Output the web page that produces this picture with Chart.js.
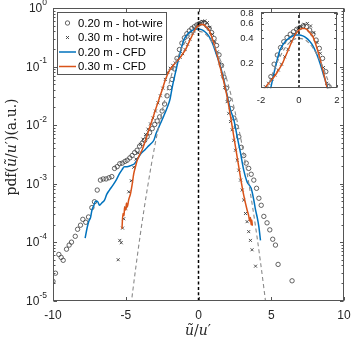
<!DOCTYPE html>
<html><head><meta charset="utf-8">
<script src="https://cdn.jsdelivr.net/npm/chart.js@4.4.0/dist/chart.umd.min.js"></script>
<style>
html,body{margin:0;padding:0;background:#fff;}
#wrap{position:relative;width:353px;height:343px;overflow:hidden;}
#main{position:absolute;left:0;top:0;}
#inset{position:absolute;left:230px;top:0;}
</style></head><body>
<div id="wrap">
<canvas id="main" width="353" height="343"></canvas>
<canvas id="inset" width="115" height="110"></canvas>
</div>
<script>
// ---------- data (x = u~/u', values stored as log10 of pdf) ----------
const hw20X = [-10.0,-9.83,-9.6,-9.44,-9.3,-9.07,-8.89,-8.73,-8.47,-8.31,-8.11,-7.95,-7.75,-7.56,-7.33,-7.15,-6.96,-6.74,-6.55,-6.35,-6.15,-5.96,-5.77,-5.59,-5.41,-5.24,-5.05,-4.9,-4.72,-4.56,-4.39,-4.22,-4.05,-3.87,-3.7,-3.53,-3.36,-3.18,-3.01,-2.84,-2.67,-2.5,-2.33,-2.16,-1.99,-1.82,-1.65,-1.48,-1.31,-1.14,-0.97,-0.8,-0.63,-0.46,-0.29,-0.12,0.05,0.22,0.39,0.56,0.73,0.9,1.07,1.24,1.41,1.58,1.75,1.92,2.09,2.26,2.43,2.6,2.77,2.94,3.11,3.28,3.45,3.62,3.8,3.99,4.15,4.31,4.49,4.71,4.9,5.1,5.29,5.47,6.43];
const hw20Log = [-4.67,-4.53,-4.21,-4.26,-4.31,-4.12,-4.05,-4.0,-3.9,-3.78,-3.71,-3.61,-3.66,-3.57,-3.41,-3.31,-3.11,-2.94,-2.92,-2.92,-2.9,-2.88,-2.74,-2.71,-2.66,-2.65,-2.62,-2.6,-2.56,-2.52,-2.47,-2.43,-2.36,-2.31,-2.26,-2.2,-2.13,-2.06,-1.99,-1.93,-1.86,-1.76,-1.64,-1.5,-1.36,-1.22,-1.04,-0.86,-0.71,-0.6,-0.51,-0.44,-0.39,-0.35,-0.32,-0.29,-0.27,-0.25,-0.26,-0.3,-0.35,-0.42,-0.52,-0.64,-0.8,-0.98,-1.18,-1.37,-1.56,-1.72,-1.88,-2.03,-2.2,-2.38,-2.52,-2.65,-2.74,-2.84,-2.94,-3.08,-3.25,-3.37,-3.56,-3.67,-3.79,-3.95,-4.05,-4.38,-4.66];

const hw30X = [-5.52,-5.41,-5.31,-5.22,-5.14,-5.0,-4.79,-4.62,-4.45,-4.3,-4.15,-3.99,-3.82,-3.64,-3.47,-3.3,-3.13,-2.96,-2.79,-2.62,-2.45,-2.28,-2.11,-1.94,-1.77,-1.6,-1.43,-1.26,-1.09,-0.92,-0.75,-0.58,-0.41,-0.24,-0.07,0.1,0.27,0.44,0.61,0.78,0.95,1.12,1.29,1.46,1.63,1.8,1.97,2.08,2.2,2.31,2.43,2.54,2.66,2.77,2.89,3.0,3.11,3.23,3.34,3.45,3.57,3.68,3.92];
const hw30Log = [-4.3,-3.97,-4.01,-3.76,-3.6,-3.42,-3.14,-2.95,-2.72,-2.58,-2.48,-2.33,-2.24,-2.16,-2.07,-1.98,-1.88,-1.76,-1.62,-1.5,-1.37,-1.22,-1.1,-1.03,-0.98,-0.94,-0.89,-0.84,-0.78,-0.71,-0.62,-0.53,-0.43,-0.35,-0.29,-0.26,-0.23,-0.22,-0.25,-0.33,-0.45,-0.58,-0.75,-0.94,-1.13,-1.36,-1.6,-1.8,-1.94,-2.08,-2.26,-2.43,-2.6,-2.77,-2.94,-3.11,-3.28,-3.51,-3.65,-3.82,-3.97,-4.13,-4.41];

const cfd20X = [-7.79,-7.65,-7.55,-7.42,-7.32,-7.2,-7.08,-6.95,-6.8,-6.65,-6.46,-6.3,-6.12,-5.89,-5.66,-5.43,-5.25,-5.09,-4.9,-4.74,-4.55,-4.4,-4.17,-3.94,-3.71,-3.49,-3.28,-3.07,-2.91,-2.75,-2.61,-2.38,-2.15,-1.95,-1.81,-1.58,-1.35,-1.15,-1.0,-0.8,-0.6,-0.4,-0.2,0.02,0.2,0.36,0.55,0.71,0.88,1.05,1.28,1.51,1.74,1.97,2.2,2.43,2.66,2.89,3.11,3.34,3.5,3.62,3.8,3.92,4.03,4.15,4.26];
const cfd20Log = [-3.93,-3.75,-3.65,-3.58,-3.45,-3.38,-3.3,-3.3,-3.37,-3.33,-3.28,-3.18,-3.11,-3.03,-2.94,-2.83,-2.76,-2.71,-2.71,-2.7,-2.68,-2.66,-2.57,-2.48,-2.43,-2.37,-2.32,-2.26,-2.14,-2.05,-1.97,-1.84,-1.7,-1.55,-1.36,-1.1,-0.85,-0.66,-0.54,-0.46,-0.41,-0.38,-0.36,-0.36,-0.37,-0.39,-0.43,-0.48,-0.56,-0.66,-0.83,-1.0,-1.23,-1.49,-1.74,-1.91,-2.2,-2.48,-2.77,-2.97,-3.03,-3.08,-3.28,-3.45,-3.57,-3.74,-3.97];

const cfd30X = [-5.26,-5.19,-5.12,-5.08,-5.0,-4.95,-4.9,-4.8,-4.67,-4.55,-4.45,-4.33,-4.21,-4.03,-3.87,-3.64,-3.42,-3.18,-2.96,-2.73,-2.5,-2.27,-2.0,-1.7,-1.45,-1.24,-1.05,-0.89,-0.72,-0.55,-0.38,-0.21,-0.05,0.14,0.3,0.45,0.6,0.71,0.88,1.05,1.28,1.51,1.74,1.97,2.2,2.43,2.66,2.89,3.11,3.34,3.45,3.52,3.57,3.62,3.66,3.7];
const cfd30Log = [-3.77,-3.51,-3.55,-3.4,-3.45,-3.33,-3.4,-3.28,-3.17,-3.0,-2.83,-2.71,-2.6,-2.5,-2.42,-2.26,-2.09,-1.91,-1.74,-1.57,-1.4,-1.22,-1.07,-0.97,-0.9,-0.84,-0.77,-0.71,-0.62,-0.53,-0.44,-0.36,-0.31,-0.28,-0.28,-0.3,-0.34,-0.37,-0.47,-0.6,-0.8,-1.03,-1.26,-1.52,-1.85,-2.2,-2.55,-2.9,-3.2,-3.45,-3.55,-3.64,-3.58,-3.7,-3.62,-3.72];

const gaussX = [-4.75,-4.5,-4.25,-4,-3.75,-3.5,-3.25,-3,-2.75,-2.5,-2.25,-2,-1.75,-1.5,-1.25,-1,-0.75,-0.5,-0.25,0,0.25,0.5,0.75,1,1.25,1.5,1.75,2,2.25,2.5,2.75,3,3.25,3.5,3.75,4,4.25,4.5,4.75];
const gaussLog = [-5.3,-4.8,-4.32,-3.87,-3.45,-3.06,-2.69,-2.35,-2.04,-1.76,-1.5,-1.27,-1.06,-0.89,-0.74,-0.62,-0.52,-0.45,-0.41,-0.4,-0.41,-0.45,-0.52,-0.62,-0.74,-0.89,-1.06,-1.27,-1.5,-1.76,-2.04,-2.35,-2.69,-3.06,-3.45,-3.87,-4.32,-4.8,-5.3];

const seriesLabels = ['0.20 m - hot-wire','0.30 m - hot-wire','0.20 m - CFD','0.30 m - CFD'];
const mainXTicks = [-10,-5,0,5,10];
const mainYExps = [0,-1,-2,-3,-4,-5];
const insetXTicks = [-2,0,2];
const insetYTicks = [0.2,0.4,0.6,0.8];

// ---------- helpers ----------
const pts = (xs, ls) => xs.map((x,i)=>({x:x, y:Math.pow(10, ls[i])}));
const BLUE = '#0072BD', ORANGE = '#D95319', MARK = '#3c3c3c', AXC = '#555555';
const SANS = '"Liberation Sans", Arial, sans-serif';
const SERIF = '"DejaVu Serif", "Liberation Serif", serif';

function datasets(ymin, ymax){
  return [
    {label:seriesLabels[0], data:pts(hw20X,hw20Log), showLine:false, pointStyle:'circle', pointRadius:2.2,
     pointBorderColor:MARK, pointBackgroundColor:'rgba(0,0,0,0)', pointBorderWidth:0.8, order:5, clip:0},
    {label:seriesLabels[1], data:pts(hw30X,hw30Log), showLine:false, pointStyle:'crossRot', pointRadius:2.1,
     pointBorderColor:MARK, pointBackgroundColor:'rgba(0,0,0,0)', pointBorderWidth:0.9, order:4, clip:0},
    {label:seriesLabels[2], data:pts(cfd20X,cfd20Log), showLine:true, pointRadius:0, borderColor:BLUE, borderWidth:1.5,
     cubicInterpolationMode:'monotone', order:3, clip:0},
    {label:seriesLabels[3], data:pts(cfd30X,cfd30Log), showLine:true, pointRadius:0, borderColor:ORANGE, borderWidth:1.5,
     cubicInterpolationMode:'monotone', order:2, clip:0},
    {label:'gauss', data:pts(gaussX,gaussLog), showLine:true, pointRadius:0, borderColor:'#8a8a8a', borderWidth:1.1,
     borderDash:[4,3], cubicInterpolationMode:'monotone', order:1, clip:0},
    {label:'zero', data:[{x:0,y:ymin},{x:0,y:ymax}], showLine:true, pointRadius:0, borderColor:'#000', borderWidth:1.5,
     borderDash:[3,2.4], order:0, clip:0}
  ];
}

function mixedText(ctx, parts, cx, cy, rotate){
  let w = 0;
  parts.forEach(p=>{ctx.font=p[1]; p.w=ctx.measureText(p[0]).width; w+=p.w;});
  ctx.save(); ctx.translate(cx,cy); if(rotate) ctx.rotate(-Math.PI/2);
  ctx.textAlign='left'; ctx.textBaseline='alphabetic';
  let xx = -w/2;
  parts.forEach(p=>{ctx.font=p[1]; ctx.fillText(p[0],xx,0); xx+=p.w;});
  ctx.restore();
}

const whiteBg = {
  id:'whiteBg',
  beforeDraw(chart, args, opts){
    const c = chart.ctx, a = chart.chartArea;
    c.save(); c.fillStyle='#fff';
    if(opts.areaOnly) c.fillRect(a.left, a.top, a.right-a.left, a.bottom-a.top);
    else c.fillRect(0,0,chart.width,chart.height);
    c.restore();
  }
};

const mainDeco = {
  id:'mainDeco',
  afterDraw(chart){
    const {ctx, chartArea:a, scales:{x,y}} = chart;
    ctx.save();
    const L=Math.round(a.left)+0.5, R=Math.round(a.right)-0.5, T=Math.round(a.top)+0.5, B=Math.round(a.bottom)-0.5;
    ctx.strokeStyle=AXC; ctx.lineWidth=1;
    ctx.strokeRect(L,T,R-L,B-T);
    ctx.beginPath();
    mainXTicks.forEach(v=>{const px=Math.round(x.getPixelForValue(v))+0.5;
      ctx.moveTo(px,B); ctx.lineTo(px,B-3.5); ctx.moveTo(px,T); ctx.lineTo(px,T+3.5);});
    for(let e=-5; e<=0; e++){
      for(let k=1;k<=9;k++){
        const v=k*Math.pow(10,e); if(v>1.0001) break;
        const py=Math.round(y.getPixelForValue(v))+0.5; const len=(k===1)?3.5:2;
        ctx.moveTo(L,py); ctx.lineTo(L+len,py); ctx.moveTo(R,py); ctx.lineTo(R-len,py);
      }
    }
    ctx.stroke();
    // tick labels
    ctx.fillStyle='#262626';
    ctx.font='12px '+SANS; ctx.textAlign='center'; ctx.textBaseline='middle';
    mainXTicks.forEach(v=>ctx.fillText(String(v), x.getPixelForValue(v), 316));
    mainYExps.forEach(e=>{
      const py=y.getPixelForValue(Math.pow(10,e));
      const sup=String(e);
      ctx.font='8.5px '+SANS; const sw=ctx.measureText(sup).width;
      ctx.textAlign='right'; ctx.textBaseline='middle';
      const right=47;
      ctx.fillText(sup,right,py-5.5);
      ctx.font='12px '+SANS; ctx.fillText('10', right-sw, py+1);
    });
    // axis titles
    const rom='14px '+SERIF, ita='italic 14px '+SERIF;
    mixedText(ctx, [['pdf(',rom],['ũ',ita],['/',rom],['u',ita],['′',rom],[')(a.u.)',rom]], 16, 147, true);
    mixedText(ctx, [['ũ',ita],['/',rom],['u',ita],['′',rom]], 198, 335, false);
    // legend
    const lx=57.5, ly=12.5, lw=109, lh=62;
    ctx.fillStyle='#fff'; ctx.fillRect(lx,ly,lw,lh);
    ctx.strokeStyle=AXC; ctx.lineWidth=1; ctx.strokeRect(lx,ly,lw,lh);
    const rows=[23,37.5,52,66.5];
    ctx.lineWidth=0.8; ctx.strokeStyle=MARK;
    ctx.beginPath(); ctx.arc(67.5,rows[0],2.2,0,Math.PI*2); ctx.stroke();
    ctx.lineWidth=0.9; ctx.beginPath();
    ctx.moveTo(66,rows[1]-1.5); ctx.lineTo(69,rows[1]+1.5); ctx.moveTo(69,rows[1]-1.5); ctx.lineTo(66,rows[1]+1.5); ctx.stroke();
    ctx.lineWidth=1.5; ctx.strokeStyle=BLUE; ctx.beginPath(); ctx.moveTo(59,rows[2]); ctx.lineTo(76,rows[2]); ctx.stroke();
    ctx.strokeStyle=ORANGE; ctx.beginPath(); ctx.moveTo(59,rows[3]); ctx.lineTo(76,rows[3]); ctx.stroke();
    ctx.fillStyle='#000'; ctx.font='11.3px '+SANS; ctx.textAlign='left'; ctx.textBaseline='middle';
    seriesLabels.forEach((t,i)=>ctx.fillText(t,78,rows[i]+0.5));
    ctx.restore();
  }
};

const insetDeco = {
  id:'insetDeco',
  afterDraw(chart){
    const {ctx, chartArea:a, scales:{x,y}} = chart;
    ctx.save();
    const L=Math.round(a.left)+0.5, R=Math.round(a.right)-0.5, T=Math.round(a.top)+0.5, B=Math.round(a.bottom)-0.5;
    ctx.strokeStyle=AXC; ctx.lineWidth=1;
    ctx.strokeRect(L,T,R-L,B-T);
    ctx.beginPath();
    insetXTicks.forEach(v=>{const px=Math.round(x.getPixelForValue(v))+0.5;
      ctx.moveTo(px,B); ctx.lineTo(px,B-2.5); ctx.moveTo(px,T); ctx.lineTo(px,T+2.5);});
    insetYTicks.forEach(v=>{const py=Math.round(y.getPixelForValue(v))+0.5;
      ctx.moveTo(L,py); ctx.lineTo(L+2.5,py); ctx.moveTo(R,py); ctx.lineTo(R-2.5,py);});
    [0.3,0.5,0.7].forEach(v=>{const py=Math.round(y.getPixelForValue(v))+0.5;
      ctx.moveTo(L,py); ctx.lineTo(L+1.5,py); ctx.moveTo(R,py); ctx.lineTo(R-1.5,py);});
    ctx.stroke();
    ctx.fillStyle='#262626'; ctx.font='9.5px '+SANS;
    ctx.textAlign='center'; ctx.textBaseline='middle';
    insetXTicks.forEach(v=>ctx.fillText(String(v), x.getPixelForValue(v), 100));
    ctx.textAlign='right';
    insetYTicks.forEach(v=>ctx.fillText(String(v), 23.5, y.getPixelForValue(v)));
    ctx.restore();
  }
};

const commonScale = {ticks:{display:false}, grid:{display:false}, border:{display:false}};

new Chart(document.getElementById('main'), {
  type:'scatter',
  data:{datasets:datasets(1e-5,1)},
  options:{
    responsive:false, animation:false, devicePixelRatio:1, events:[],
    layout:{padding:{left:0,right:9,top:8,bottom:0}},
    plugins:{legend:{display:false}, tooltip:{enabled:false}, whiteBg:{areaOnly:false}},
    scales:{
      x:Object.assign({type:'linear',min:-10,max:10, afterFit(s){s.height=42.3;}}, commonScale),
      y:Object.assign({type:'logarithmic',min:1e-5,max:1, afterFit(s){s.width=53;}}, commonScale)
    }
  },
  plugins:[whiteBg, mainDeco]
});

new Chart(document.getElementById('inset'), {
  type:'scatter',
  data:{datasets:datasets(0.1,0.82)},
  options:{
    responsive:false, animation:false, devicePixelRatio:1, events:[],
    layout:{padding:{left:0,right:8,top:12.3,bottom:0}},
    plugins:{legend:{display:false}, tooltip:{enabled:false}, whiteBg:{areaOnly:true}},
    scales:{
      x:Object.assign({type:'linear',min:-2,max:2, afterFit(s){s.height=21.7;}}, commonScale),
      y:Object.assign({type:'logarithmic',min:0.1,max:0.82, afterFit(s){s.width=31;}}, commonScale)
    }
  },
  plugins:[whiteBg, insetDeco]
});
</script>
</body></html>
